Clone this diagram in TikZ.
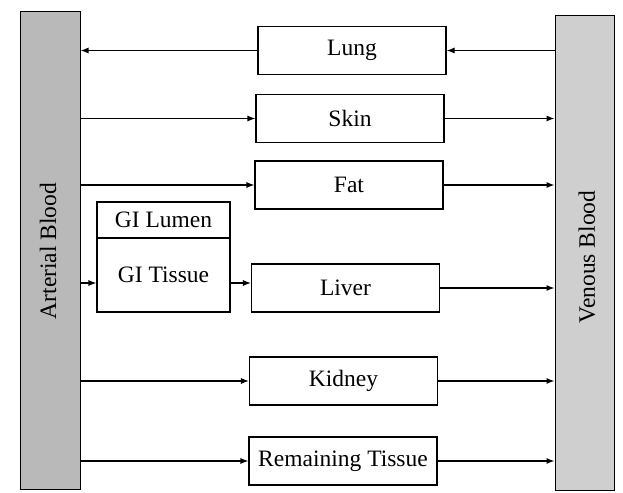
\documentclass[tikz,border=0pt]{standalone}
\usepackage{fontspec}
\setmainfont{Liberation Serif}
\usetikzlibrary{arrows.meta}
\begin{document}
\begin{tikzpicture}[x=1pt,y=-1pt,
  organ/.style={draw=black, line width=1.1pt, minimum width=188pt, minimum height=48pt, inner sep=0pt, font=\fontsize{23.5}{26}\selectfont},
  gibox/.style={draw=black, line width=1.1pt, minimum width=133pt, inner sep=0pt, font=\fontsize{23.5}{26}\selectfont},
  bar/.style={draw=black, line width=1pt, inner sep=0pt, font=\fontsize{23.5}{26}\selectfont},
  arr/.style={draw=black, line width=1.1pt, -{Latex[length=8pt,width=6pt]}}]
\useasboundingbox (0,0) rectangle (623,492);
\node[bar, fill=gray!55, minimum width=60pt, minimum height=477pt] (art) at (50,250.5) {};
\node[bar, fill=gray!38, minimum width=59pt, minimum height=474pt] (ven) at (584.5,253) {};
\node[rotate=90, font=\fontsize{23.5}{26}\selectfont] (artl) at (48,251) {Arterial Blood};
\node[rotate=90, font=\fontsize{23.5}{26}\selectfont] (venl) at (587,257) {Venous Blood};
\node[organ] (lung) at (352,50.5) {Lung};
\node[organ] (skin) at (350,118.5) {Skin};
\node[organ] (fat) at (349,185) {Fat};
\node[organ] (liver) at (345.5,288) {Liver};
\node[organ] (kidney) at (343.5,381) {Kidney};
\node[organ] (rem) at (343,461) {Remaining Tissue};
\node[gibox, minimum height=36pt] (gilum) at (163.5,220) {GI Lumen};
\node[gibox, minimum height=74pt] (gitis) at (163.5,275) {GI Tissue};
\draw[arr] (ven.west |- lung.east) -- (lung.east);
\draw[arr] (lung.west) -- (art.east |- lung.west);
\draw[arr] (art.east |- skin.west) -- (skin.west);
\draw[arr] (skin.east) -- (ven.west |- skin.east);
\draw[arr] (art.east |- fat.west) -- (fat.west);
\draw[arr] (fat.east) -- (ven.west |- fat.east);
\coordinate (gy) at (0,283);
\draw[arr] (art.east |- gy) -- (gitis.west |- gy);
\draw[arr] (gitis.east |- gy) -- (liver.west |- gy);
\draw[arr] (liver.east) -- (ven.west |- liver.east);
\draw[arr] (art.east |- kidney.west) -- (kidney.west);
\draw[arr] (kidney.east) -- (ven.west |- kidney.east);
\draw[arr] (art.east |- rem.west) -- (rem.west);
\draw[arr] (rem.east) -- (ven.west |- rem.east);
\end{tikzpicture}
\end{document}
